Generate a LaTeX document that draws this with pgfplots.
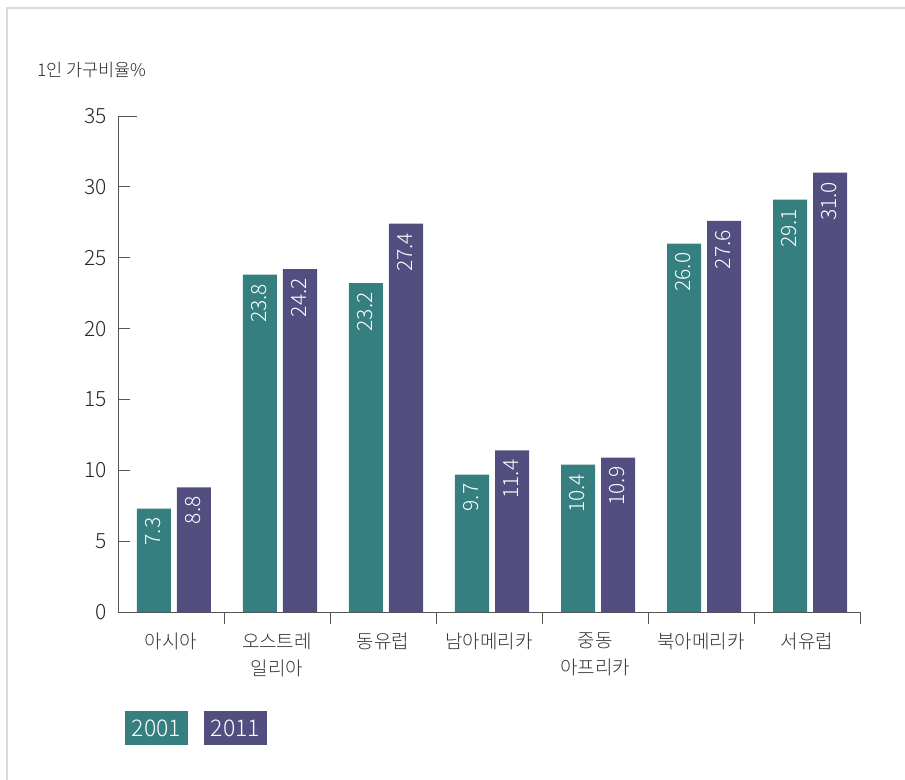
\documentclass[border=0pt]{standalone}
\usepackage{fontspec}
\setmainfont{Noto Sans CJK KR}[UprightFont=* Light]
\usepackage{pgfplots}
\pgfplotsset{compat=1.18}
\definecolor{cA}{HTML}{357F80}
\definecolor{cB}{HTML}{524F80}
\definecolor{ax}{HTML}{555555}
\definecolor{frm}{HTML}{DADADA}
\begin{document}
\begin{tikzpicture}
\path[use as bounding box] (-118bp,-168bp) rectangle (787bp,612bp);
\draw[frm, line width=2bp] (-111bp,-168bp) -- (-111bp,604bp) -- (787bp,604bp);
\begin{axis}[
  at={(0,0)}, anchor=south west,
  scale only axis, width=742bp, height=496bp,
  xmin=-0.5, xmax=6.5, ymin=0, ymax=35,
  axis x line=bottom, axis y line=left,
  axis line style={-, ax, line width=0.9bp},
  tick style={ax, line width=0.9bp},
  tick align=inside,
  ybar, bar width=34bp,
  xtick={0.5,1.5,...,6.5}, xticklabels={},
  extra x ticks={0,1,...,6},
  extra x tick labels={아시아, {오스트레\\일리아}, 동유럽, 남아메리카, {중동\\아프리카}, 북아메리카, 서유럽},
  extra x tick style={major tick length=0pt},
  x tick label style={align=center, inner sep=0pt, anchor=north, yshift=-21bp, font=\fontsize{19bp}{27bp}\selectfont, text=black!80},
  ytick={0,5,...,30},
  extra y ticks={35},
  extra y tick style={major tick length=19bp},
  major tick length=12bp,
  y tick label style={inner sep=0pt, anchor=east, xshift=-11bp, font=\fontsize{21bp}{24bp}\selectfont, text=black!85},
  /pgf/number format/assume math mode=true,
  nodes near coords,
  every node near coord/.append style={rotate=90, anchor=east, text=white, xshift=-6bp, yshift=1bp, inner sep=3bp,
    font=\fontsize{21bp}{24bp}\selectfont,
    /pgf/number format/fixed, /pgf/number format/fixed zerofill, /pgf/number format/precision=1,
    /pgf/number format/assume math mode=true},
  clip=false,
]
\addplot[fill=cA, draw=none, bar shift=-17bp] coordinates {(0,7.3) (1,23.8) (2,23.2) (3,9.7) (4,10.4) (5,26.0) (6,29.1)};
\addplot[fill=cB, draw=none, bar shift=23bp] coordinates {(0,8.8) (1,24.2) (2,27.4) (3,11.4) (4,10.9) (5,27.6) (6,31.0)};
\end{axis}
\node[anchor=west, inner sep=0pt, font=\fontsize{17.5bp}{20bp}\selectfont, text=black!85] at (-81bp,542bp) {1인 가구비율\%};
\fill[cA] (7bp,-133bp) rectangle (70bp,-99bp);
\node[text=white, font=\fontsize{23bp}{26bp}\selectfont] at (38.5bp,-116bp) {2001};
\fill[cB] (86bp,-133bp) rectangle (149bp,-99bp);
\node[text=white, font=\fontsize{23bp}{26bp}\selectfont] at (117.5bp,-116bp) {2011};
\end{tikzpicture}
\end{document}
